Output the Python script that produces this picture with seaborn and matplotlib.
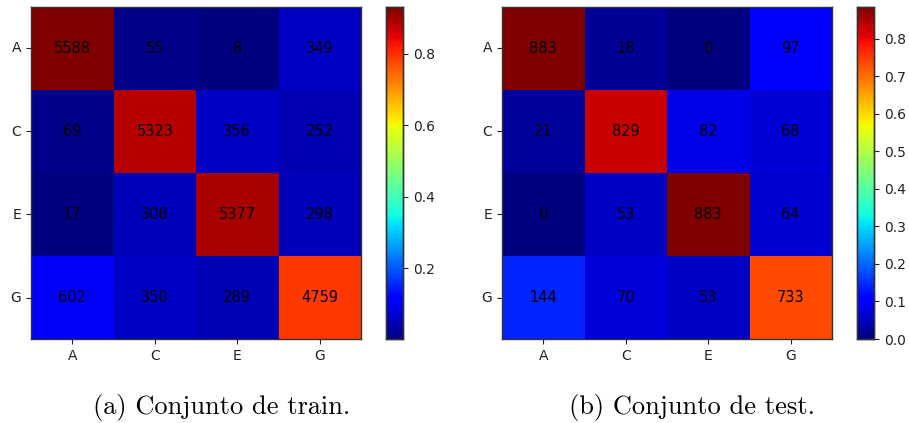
import numpy as np
import matplotlib
matplotlib.use("Agg")
import matplotlib.pyplot as plt
from matplotlib.ticker import MultipleLocator, FormatStrFormatter
import seaborn as sns

labels = ["A", "C", "E", "G"]

train_counts = [
    [5588, 55, 8, 349],
    [69, 5323, 356, 252],
    [17, 308, 5377, 298],
    [602, 350, 289, 4759],
]
test_counts = [
    [883, 18, 0, 97],
    [21, 829, 82, 68],
    [0, 53, 883, 64],
    [144, 70, 53, 733],
]
captions = ["(a) Conjunto de train.", "(b) Conjunto de test."]

W, H = 909, 423
fig = plt.figure(figsize=(W / 100, H / 100), dpi=100)


def frac(x0, y0, x1, y1):
    return [x0 / W, 1 - y1 / H, (x1 - x0) / W, (y1 - y0) / H]


panels = [
    (train_counts, frac(31, 7, 361, 339), frac(386, 7, 403, 339), 0.2, 222),
    (test_counts, frac(502, 7, 832, 339), frac(857, 7, 874, 339), 0.1, 692),
]

for (counts, ax_rect, cb_rect, step, cx), cap in zip(panels, captions):
    counts = np.array(counts)
    rates = counts / counts.sum(axis=1, keepdims=True)
    ax = fig.add_axes(ax_rect)
    cax = fig.add_axes(cb_rect)
    sns.heatmap(rates, ax=ax, cbar_ax=cax, cmap="jet", annot=counts, fmt="d",
                annot_kws={"color": "black", "fontsize": 10.5},
                xticklabels=labels, yticklabels=labels, linewidths=0)
    ax.tick_params(axis="both", length=3.5, width=0.8, labelsize=10,
                   colors="#222222")
    ax.set_yticklabels(labels, rotation=0)
    ax.set_xticklabels(labels, rotation=0)
    for s in ax.spines.values():
        s.set_visible(True)
        s.set_color("#333333")
        s.set_linewidth(1.0)
    cax.yaxis.set_major_locator(MultipleLocator(step))
    cax.yaxis.set_major_formatter(FormatStrFormatter("%.1f"))
    cax.tick_params(length=3.5, width=0.8, labelsize=10, colors="#222222")
    for s in cax.spines.values():
        s.set_visible(True)
        s.set_color("#333333")
        s.set_linewidth(1.0)
    fig.text(cx / W, 1 - 414 / H, cap, family="cmr10", fontsize=19,
             ha="center", va="baseline")

fig.savefig("out.png", dpi=100)
